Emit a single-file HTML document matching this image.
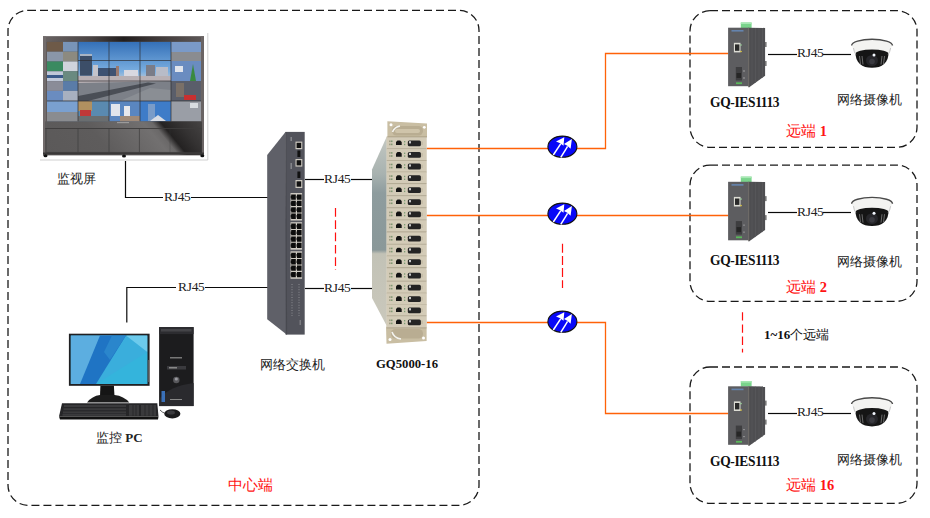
<!DOCTYPE html>
<html><head><meta charset="utf-8">
<style>
html,body{margin:0;padding:0;background:#fff;}
body{width:930px;height:518px;position:relative;overflow:hidden;font-family:"Liberation Serif",serif;color:#222;}
.t{position:absolute;white-space:nowrap;font-size:13px;line-height:1;}
.b{font-weight:bold;color:#111;}
.rj{font-size:13.5px;letter-spacing:-0.3px;}
.g{font-size:13.5px;letter-spacing:-0.35px;transform:scaleY(1.07);transform-origin:0 12px;}
.r{color:#ff1414;font-size:14.5px;}
svg{position:absolute;left:0;top:0;}
</style></head><body>
<svg width="930" height="518" viewBox="0 0 930 518">
<defs>
  <linearGradient id="sky" x1="0" y1="0" x2="0" y2="1">
    <stop offset="0" stop-color="#3470b8"/><stop offset="0.5" stop-color="#7aaee0"/><stop offset="0.6" stop-color="#a8c0d8"/><stop offset="1" stop-color="#8a9098"/>
  </linearGradient>
  <linearGradient id="cab" x1="0" y1="0" x2="1" y2="0">
    <stop offset="0" stop-color="#4a4a4a"/><stop offset="0.55" stop-color="#555"/><stop offset="0.75" stop-color="#1e1e1e"/><stop offset="1" stop-color="#3a3a3a"/>
  </linearGradient>
  <linearGradient id="sw" x1="0" y1="0" x2="1" y2="0">
    <stop offset="0" stop-color="#5a5b63"/><stop offset="1" stop-color="#4a4b52"/>
  </linearGradient>
  <linearGradient id="chs" gradientUnits="userSpaceOnUse" x1="0" y1="136" x2="0" y2="326">
    <stop offset="0" stop-color="#c4c8c2"/><stop offset="0.2" stop-color="#a8b2b0"/><stop offset="0.3" stop-color="#8e9c9e"/><stop offset="0.6" stop-color="#8a9899"/><stop offset="0.62" stop-color="#c2c2b6"/><stop offset="1" stop-color="#cac8bc"/>
  </linearGradient>
  <linearGradient id="pcs" x1="0" y1="0" x2="1" y2="1">
    <stop offset="0" stop-color="#1f8fd0"/><stop offset="0.5" stop-color="#38aee0"/><stop offset="1" stop-color="#1a70b8"/>
  </linearGradient>
  <linearGradient id="ftop" x1="0" y1="0" x2="1" y2="0">
    <stop offset="0" stop-color="#6a6464"/><stop offset="0.3" stop-color="#4a4444"/><stop offset="0.5" stop-color="#221e1e"/><stop offset="0.7" stop-color="#3e3838"/><stop offset="1" stop-color="#5e5858"/>
  </linearGradient>
  <linearGradient id="cabl" x1="0" y1="0" x2="1" y2="0">
    <stop offset="0" stop-color="#555252"/><stop offset="0.6" stop-color="#5e5b5b"/><stop offset="1" stop-color="#7a7878"/>
  </linearGradient>
  <linearGradient id="cabr" x1="0" y1="0" x2="1" y2="0">
    <stop offset="0" stop-color="#1a1818"/><stop offset="0.5" stop-color="#2e2c2c"/><stop offset="1" stop-color="#4a4848"/>
  </linearGradient>
  <linearGradient id="cabg" gradientUnits="userSpaceOnUse" x1="73.4" y1="214.3" x2="204.6" y2="106.2">
    <stop offset="0" stop-color="#5a5858"/><stop offset="0.4" stop-color="#5e5c5c"/><stop offset="0.66" stop-color="#727070"/><stop offset="0.70" stop-color="#6a6868"/><stop offset="0.74" stop-color="#242222"/><stop offset="0.82" stop-color="#343232"/><stop offset="1" stop-color="#504e4e"/>
  </linearGradient>
</defs>
<!-- dashed boxes -->
<g fill="none" stroke="#1a1a1a" stroke-width="1.3" stroke-dasharray="8 4">
  <rect x="8" y="10.3" width="471" height="495" rx="20" ry="20"/>
  <rect x="690" y="10.7" width="227" height="136.6" rx="20" ry="20"/>
  <rect x="690" y="165.1" width="227" height="136.2" rx="20" ry="20"/>
  <rect x="690" y="367" width="227" height="136.3" rx="20" ry="20"/>
</g>
<!-- black connection lines -->
<g fill="none" stroke="#0a0a0a" stroke-width="1.2">
  <polyline points="125.5,161 125.5,197.5 163,197.5"/>
  <line x1="191" y1="197.5" x2="268" y2="197.5"/>
  <polyline points="126.8,322.6 126.8,287.5 176,287.5"/>
  <line x1="205" y1="287.5" x2="268" y2="287.5"/>
  <line x1="305" y1="179.5" x2="324" y2="179.5"/>
  <line x1="351" y1="179.5" x2="372" y2="179.5"/>
  <line x1="305" y1="288.5" x2="324" y2="288.5"/>
  <line x1="351" y1="288.5" x2="372" y2="288.5"/>
  <line x1="768" y1="54.5" x2="797" y2="54.5"/>
  <line x1="823" y1="54.5" x2="851" y2="54.5"/>
  <line x1="768" y1="212.5" x2="797" y2="212.5"/>
  <line x1="823" y1="212.5" x2="851" y2="212.5"/>
  <line x1="768" y1="413.5" x2="797" y2="413.5"/>
  <line x1="823" y1="413.5" x2="851" y2="413.5"/>
</g>
<!-- red dashed -->
<g fill="none" stroke="#ff1010" stroke-width="1.2">
  <line x1="335.5" y1="208" x2="335.5" y2="270" stroke-dasharray="8.7 3.6"/>
  <line x1="562.5" y1="243.7" x2="562.5" y2="288" stroke-dasharray="9 3.2"/>
  <line x1="742.5" y1="312.2" x2="742.5" y2="352.5" stroke-dasharray="8.3 3.9"/>
</g>
<!-- orange lines -->
<g fill="none" stroke="#ff6208" stroke-width="1.3">
  <polyline points="426.6,148.5 605.5,148.5 605.5,53.5 728.4,53.5"/>
  <line x1="426.6" y1="215.5" x2="728.4" y2="215.5"/>
  <polyline points="426.6,322.5 605.5,322.5 605.5,413.5 728.4,413.5"/>
</g>
<!-- blue icons -->
<g id="ic">
  <ellipse cx="562.4" cy="146.7" rx="14.5" ry="10.6" fill="#0808f8" stroke="#111" stroke-width="1.1"/>
  <g stroke="#fff" stroke-width="1.5">
    <line x1="553.3" y1="155" x2="560.8" y2="143.6"/>
    <line x1="560.8" y1="157.3" x2="567.6" y2="146.4"/>
  </g>
  <polygon points="564.3,137.2 556,141.6 560.2,143.2 563.5,145.7" fill="#fff"/>
  <polygon points="571.9,139 564,144 567.3,145.8 570.6,148.8" fill="#fff"/>
</g>
<use href="#ic" transform="translate(0,67)"/>
<use href="#ic" transform="translate(0,175)"/>

<!-- ===== monitor wall ===== -->
<g id="wall">
  <polyline points="207.8,33 207.8,160 40,160" fill="none" stroke="#d0d0d0" stroke-width="1"/>
  <rect x="43" y="36.4" width="161" height="119" fill="#605a5a"/>
  <rect x="43" y="36.4" width="161" height="5.5" fill="url(#ftop)"/>
  <rect x="43" y="36.4" width="3" height="119" fill="#726c6c"/>
  <rect x="201" y="36.4" width="3" height="119" fill="#6a6464"/>
  <rect x="47" y="41.9" width="154" height="79.5" fill="#4f5660"/>
  <!-- center big image 3x3 -->
  <rect x="78" y="41.9" width="93" height="59" fill="url(#sky)"/>
  <rect x="79.9" y="54.7" width="12.1" height="21" fill="#3c4e68"/>
  <rect x="80" y="54" width="12" height="2" fill="#a8b4c4"/>
  <rect x="93" y="65" width="5" height="12" fill="#c4c4cc"/>
  <rect x="98" y="68" width="18" height="9" fill="#3e5272"/>
  <rect x="116" y="66" width="3" height="11" fill="#9a7a70"/>
  <rect x="124" y="70" width="14" height="8" fill="#d8d8e0"/>
  <rect x="146" y="65" width="9" height="12" fill="#7a7c88"/>
  <rect x="156" y="67" width="12" height="10" fill="#b8bcc8"/>
  <rect x="78" y="76" width="93" height="7" fill="#b8b0b4"/>
  <polygon points="78,83 171,81 171,101 78,101" fill="#7c8088"/>
  <polygon points="78,96 148,82.5 156,83.5 88,101 78,101" fill="#4a4e56"/>
  <polygon points="120,101 150,88 171,90 171,101" fill="#8a8e94"/>
  <!-- left col small tiles -->
  <rect x="47" y="41.9" width="16" height="9.8" fill="#6e5a48"/>
  <rect x="63" y="41.9" width="15" height="9.8" fill="#7894b8"/>
  <rect x="47" y="51.7" width="16" height="9.8" fill="#8a96a8"/>
  <rect x="63" y="51.7" width="15" height="9.8" fill="#8c8a80"/>
  <rect x="47" y="61.5" width="16" height="9.8" fill="#3a8a60"/>
  <rect x="63" y="61.5" width="15" height="9.8" fill="#d0d4dc"/>
  <rect x="47" y="71.3" width="16" height="9.8" fill="#c0c8d8"/>
  <rect x="47" y="75" width="16" height="3" fill="#3a5a8a"/>
  <rect x="63" y="71.3" width="15" height="9.8" fill="#6a8a80"/>
  <rect x="47" y="81.1" width="16" height="9.8" fill="#8a8c98"/>
  <rect x="63" y="81.1" width="15" height="9.8" fill="#5a7ca8"/>
  <rect x="47" y="90.9" width="16" height="10" fill="#6a8cc0"/>
  <rect x="63" y="90.9" width="15" height="10" fill="#a8b0c0"/>
  <!-- bottom row -->
  <rect x="47" y="101" width="31" height="20.4" fill="#7aa0d0"/>
  <rect x="47" y="112" width="31" height="9.4" fill="#8a8c90"/>
  <rect x="78" y="101" width="31" height="20.4" fill="#5a8ab0"/>
  <rect x="78" y="101" width="14" height="10" fill="#b09060"/>
  <rect x="80" y="110" width="11" height="6" fill="#c03838"/>
  <rect x="78" y="116" width="31" height="5.4" fill="#6a6e70"/>
  <rect x="109" y="101" width="31" height="20.4" fill="#5a86c0"/>
  <rect x="111" y="104" width="9" height="12" fill="#e0e4ec"/>
  <rect x="124" y="106" width="6" height="10" fill="#e8e8ec"/>
  <rect x="120" y="116" width="20" height="5.4" fill="#a08a78"/>
  <rect x="140" y="101" width="31" height="20.4" fill="#3e7cc8"/>
  <rect x="148" y="104" width="7" height="17" fill="#7a9cc8"/>
  <polygon points="150,121 158,115 166,121" fill="#d8dce4"/>
  <!-- right col -->
  <rect x="171" y="41.9" width="30" height="19" fill="#7a9ac8"/>
  <rect x="171" y="52" width="30" height="9" fill="#8a8c90"/>
  <rect x="171" y="61" width="30" height="20" fill="#6a8cc0"/>
  <rect x="175" y="66" width="8" height="6" fill="#e0e4ec"/>
  <polygon points="190,81 193,64 196,81" fill="#3a8a40"/>
  <rect x="171" y="81" width="30" height="20" fill="#5a5e6a"/>
  <rect x="176" y="83" width="8" height="14" fill="#7a7068"/>
  <rect x="184" y="95" width="12" height="5" fill="#c83030"/>
  <rect x="171" y="101" width="30" height="20.4" fill="#9a9ea6"/>
  <rect x="190" y="103" width="8" height="5" fill="#d8dce0"/>
  <!-- grid lines -->
  <g stroke="#2e2e32" stroke-width="0.7">
    <line x1="78" y1="41.9" x2="78" y2="121.4"/><line x1="109" y1="41.9" x2="109" y2="121.4"/>
    <line x1="140" y1="41.9" x2="140" y2="121.4"/><line x1="171" y1="41.9" x2="171" y2="121.4"/>
    <line x1="78" y1="60.5" x2="171" y2="60.5"/><line x1="78" y1="81" x2="171" y2="81"/>
    <line x1="47" y1="101" x2="201" y2="101"/>
  </g>
  <!-- cabinet -->
  <rect x="45" y="121.4" width="157" height="33.4" fill="url(#cabg)"/>
  <g stroke="#3e3c3c" stroke-width="0.7" fill="none">
    <line x1="45" y1="128.5" x2="202" y2="128.5"/>
    <rect x="46" y="128.6" width="155.3" height="23.7"/>
    <line x1="78" y1="128.6" x2="78" y2="152.3"/><line x1="109" y1="128.6" x2="109" y2="152.3"/>
    <line x1="139.4" y1="128.6" x2="139.4" y2="152.3"/><line x1="170" y1="128.6" x2="170" y2="152.3" stroke-opacity="0.4"/>
  </g>
  <rect x="43" y="152.5" width="161" height="2" fill="#3a3838"/>
  <rect x="117" y="122" width="12" height="1.2" fill="#bbb" opacity="0.6"/>
  <ellipse cx="45.5" cy="155.7" rx="2" ry="1.5" fill="#111"/>
  <ellipse cx="124" cy="155.9" rx="2" ry="1.5" fill="#111"/>
  <ellipse cx="202.3" cy="155.7" rx="2" ry="1.5" fill="#111"/>
</g>

<!-- ===== PC ===== -->
<g id="pc">
  <rect x="68.9" y="333.7" width="80.7" height="52.1" fill="#202022"/>
  <rect x="70.8" y="335.6" width="76.5" height="48.3" fill="#3aaedc"/>
  <polygon points="70.8,335.6 112,335.6 84,383.9 70.8,383.9" fill="#5caee0"/>
  <polygon points="100,335.6 126,335.6 96,383.9 80,383.9" fill="#1f74c4"/>
  <polygon points="112,335.6 126,335.6 110,360 104,352" fill="#2a86cc"/>
  <polygon points="126,335.6 147.3,335.6 147.3,352" fill="#6ccaec"/>
  <polygon points="96,383.9 147.3,352 147.3,383.9" fill="#34b4dc"/>
  <rect x="147.8" y="360" width="1.2" height="22" fill="#555"/>
  <polygon points="100.4,385.8 113.9,385.8 114.5,396 100,396" fill="#151515"/>
  <path d="M87,402.5 Q92,396 100,395 L114.5,395 Q124,396 129.3,402.5 Z" fill="#1c1c1c"/>
  <polygon points="62,403.2 157.3,403.2 158.5,416.5 59,416.5" fill="#262628"/>
  <polygon points="59,416.5 158.5,416.5 158,419.6 60,419.6" fill="#111"/>
  <g fill="#3a3a3c">
    <rect x="64" y="405" width="62" height="2"/><rect x="63.5" y="408.2" width="62.5" height="2"/><rect x="63" y="411.4" width="63" height="2"/><rect x="62.5" y="414" width="63.5" height="1.8"/>
    <rect x="129" y="405" width="10" height="10.8"/><rect x="141" y="405" width="15" height="10.8"/>
  </g>
  <g stroke="#1e1e20" stroke-width="0.6">
    <line x1="133" y1="405" x2="133" y2="416"/><line x1="136" y1="405" x2="136" y2="416"/><line x1="145" y1="405" x2="145" y2="416"/><line x1="149" y1="405" x2="149" y2="416"/><line x1="153" y1="405" x2="153" y2="416"/>
  </g>
  <rect x="159.1" y="327.1" width="34.5" height="79" fill="#1c1c1e"/>
  <rect x="159.1" y="327.1" width="34.5" height="7" fill="#2c2c30"/>
  <rect x="161" y="329" width="30.5" height="2.5" fill="#444448"/>
  <path d="M160,398 Q170,386 193.6,383 L193.6,406 L160,406 Z" fill="#2a2a2e"/>
  <rect x="170" y="357" width="12" height="1.5" fill="#777"/>
  <rect x="167" y="366" width="19" height="3.5" fill="#3a3a3e"/>
  <rect x="169" y="367" width="8" height="1.5" fill="#888"/>
  <circle cx="176.3" cy="380" r="3.2" fill="#58585c"/>
  <circle cx="176.3" cy="379" r="1.6" fill="#9a9aa0"/>
  <rect x="161.5" y="391" width="3.5" height="11" fill="#3a70b8"/>
  <rect x="170" y="399" width="12" height="1" fill="#888"/>
  <path d="M160,410 Q163,413 164.5,413" stroke="#333" stroke-width="0.8" fill="none"/>
  <ellipse cx="172.3" cy="413.8" rx="8.1" ry="4.6" fill="#1a1a1c"/>
  <ellipse cx="171" cy="412.5" rx="4" ry="2" fill="#3a3a3e"/>
</g>

<!-- ===== switch ===== -->
<g id="switch">
  <polygon points="267.2,155 285.5,131.9 286.6,334.6 267.2,319.3" fill="#5f6068"/>
  <rect x="285.5" y="131.9" width="19.2" height="202.7" fill="#52535b"/>
  <line x1="285.8" y1="132" x2="286.6" y2="334.6" stroke="#45464d" stroke-width="0.8"/>
  <g fill="#8a8b90"><rect x="290.5" y="137" width="1.4" height="4"/><rect x="290.5" y="163" width="1.4" height="6"/></g>
  <g fill="#cdc9c0">
    <rect x="295.5" y="141.6" width="6.8" height="7.6"/>
    <rect x="295.5" y="159" width="6.8" height="7.6"/>
    <rect x="295.5" y="180" width="6.8" height="8"/>
  </g>
  <g fill="#111">
    <rect x="296.6" y="142.8" width="4.6" height="5.2"/>
    <rect x="296.6" y="160.2" width="4.6" height="5.2"/>
    <rect x="296.6" y="181.3" width="4.6" height="5.4"/>
    <rect x="297.4" y="150.5" width="3" height="6.5"/>
    <rect x="297.4" y="171.5" width="3" height="6.5"/>
  </g>
  <g id="pgrp">
    <rect x="290.5" y="193" width="11.6" height="27.5" fill="#cdc9c1"/>
    <g fill="#0c0c0c">
      <path id="ph" d="M291.2,194.4 h4.6 v5.3 h-4.6 v-1.4 h-0.5 v-2.5 h0.5 Z"/>
      <use href="#ph" x="5.8"/>
      <use href="#ph" y="6.4"/><use href="#ph" x="5.8" y="6.4"/>
      <use href="#ph" y="12.8"/><use href="#ph" x="5.8" y="12.8"/>
      <use href="#ph" y="19.2"/><use href="#ph" x="5.8" y="19.2"/>
    </g>
  </g>
  <use href="#pgrp" transform="translate(0,29.2)"/>
  <use href="#pgrp" transform="translate(0,58.3)"/>
  <g stroke="#8c8d92" stroke-width="1" stroke-dasharray="1 1.6">
    <line x1="292" y1="284" x2="292" y2="316"/><line x1="299" y1="284" x2="299" y2="316"/>
  </g>
  <rect x="299.5" y="320" width="1.5" height="5" fill="#7a7b80"/>
</g>

<!-- ===== chassis ===== -->
<g id="chassis">
  <polygon points="372,169.4 386.8,136.5 386.8,326 372,298" fill="url(#chs)"/>
  <rect x="386.5" y="136.5" width="40" height="190" fill="#d2cab7"/>
  <polygon points="387.4,121.3 427,123.5 427,137 387.4,137" fill="#c9bea3"/>
  <rect x="392" y="126" width="31" height="9.5" rx="4.5" fill="#b9ad92"/>
  <rect x="395" y="129" width="25" height="4" rx="2" fill="#cfc4aa"/>
  <circle cx="391" cy="124.8" r="1.5" fill="#fff"/><circle cx="424.3" cy="127.3" r="1.4" fill="#fff"/>
  <path d="M392.5,132 Q394.5,127 400,126" stroke="#f4f4f0" stroke-width="1.6" fill="none"/>
  <line x1="387.4" y1="137" x2="427" y2="137" stroke="#9a8e74" stroke-width="0.8"/>
  <polygon points="386,326.5 426.6,326.5 426.6,341 386.5,343.8" fill="#c9bea3"/>
  <rect x="391" y="329" width="32" height="9.5" rx="4.5" fill="#b9ad92"/>
  <circle cx="390" cy="339.5" r="1.5" fill="#fff"/><circle cx="423.5" cy="338" r="1.5" fill="#fff"/>
  <path d="M392,332 Q394,338 401,339" stroke="#f4f4f0" stroke-width="1.6" fill="none"/>
  <g id="card">
    <rect x="386.8" y="137.5" width="39.7" height="11.2" fill="#d3cbb7"/>
    <line x1="386.8" y1="148.9" x2="426.5" y2="148.9" stroke="#a9a08a" stroke-width="0.9"/>
    <rect x="389.3" y="140.5" width="1.2" height="1.6" fill="#8a8a70"/><rect x="389.3" y="143.6" width="1.2" height="1.6" fill="#8a8a70"/>
    <rect x="391.2" y="140.5" width="1.2" height="1.6" fill="#6a8a60"/><rect x="391.2" y="143.6" width="1.2" height="1.6" fill="#6a8a60"/>
    <path d="M396,145.1 L396,142 L397.5,140.5 L400.2,140.5 L401.7,142 L401.7,145.1 Z" fill="#141414"/>
    <rect x="404.3" y="141" width="0.9" height="1.4" fill="#5a8a5a"/><rect x="404.3" y="143.8" width="0.9" height="1.4" fill="#5a8a5a"/>
    <rect x="407.8" y="140.4" width="13.1" height="5.8" rx="1.5" fill="#242424"/>
    <rect x="409" y="141.2" width="2" height="2.2" fill="#c8c8c8"/>
    <rect x="421.5" y="141.5" width="1" height="3.5" fill="#b8b09a"/>
  </g>
<use href="#card" transform="translate(0,11.60)"/><use href="#card" transform="translate(0,23.20)"/><use href="#card" transform="translate(0,34.80)"/><use href="#card" transform="translate(0,46.90)"/><use href="#card" transform="translate(0,58.90)"/><use href="#card" transform="translate(0,71.10)"/><use href="#card" transform="translate(0,83.00)"/><use href="#card" transform="translate(0,95.40)"/><use href="#card" transform="translate(0,107.20)"/><use href="#card" transform="translate(0,118.80)"/><use href="#card" transform="translate(0,132.30)"/><use href="#card" transform="translate(0,144.30)"/><use href="#card" transform="translate(0,155.80)"/><use href="#card" transform="translate(0,167.00)"/><use href="#card" transform="translate(0,179.00)"/>
</g>

<!-- ===== media converter ===== -->
<g id="mc">
  <rect x="740.8" y="22.5" width="10.8" height="5.5" fill="#7ad48c"/>
  <rect x="740.8" y="22.5" width="10.8" height="1.5" fill="#a8e8b4"/>
  <polygon points="748.9,27.7 765.1,27.9 765.1,75.8 748.9,87.4" fill="#4e4e51"/>
  <g stroke="#5c5c5f" stroke-width="0.6">
    <line x1="752" y1="28" x2="752" y2="85"/><line x1="755.5" y1="28" x2="755.5" y2="83"/><line x1="759" y1="28" x2="759" y2="80"/><line x1="762.5" y1="28" x2="762.5" y2="78"/>
  </g>
  <rect x="765" y="42" width="1.6" height="5" fill="#777"/><rect x="765" y="61" width="1.6" height="5" fill="#777"/>
  <rect x="728.1" y="27.7" width="20.8" height="58.5" fill="#5d5d60"/>
  <rect x="748.2" y="27.7" width="1" height="59.5" fill="#6e6a66"/>
  <rect x="731.5" y="30" width="12" height="1.6" fill="#6a9ad8" opacity="0.65"/>
  <rect x="733.9" y="42.8" width="6.6" height="9.6" fill="#dcdcd4"/>
  <rect x="735" y="44.4" width="4.4" height="6.4" fill="#2a2a2a"/>
  <circle cx="741" cy="45" r="0.8" fill="#9ad89a"/><circle cx="741" cy="51.5" r="0.8" fill="#e8d040"/>
  <rect x="735.8" y="67" width="6.2" height="13.5" fill="#3e3e40"/>
  <rect x="736.5" y="73" width="4.5" height="5" fill="#262626"/>
  <circle cx="744" cy="71" r="0.7" fill="#bbb"/><circle cx="744" cy="78" r="0.7" fill="#bbb"/>
  <rect x="736" y="82.3" width="6" height="1.8" fill="#5ab85a"/>
</g>
<use href="#mc" transform="translate(0,154.1)"/>
<use href="#mc" transform="translate(0,358.6)"/>

<!-- ===== camera ===== -->
<g id="cam">
  <path d="M855.3,51 A16.7,5 0 0 1 888.7,51 C888.7,63.5 882,67.8 872,67.8 C862,67.8 855.3,63.5 855.3,51 Z" fill="#151515"/>
  <g stroke="#6a6a6a" stroke-width="1">
    <path d="M859.5,56 L860.5,64" /><path d="M862,56 L863,64.5"/>
    <path d="M884.5,56 L883.5,64"/><path d="M882,56 L881,64.5"/>
  </g>
  <ellipse cx="872" cy="60.5" rx="6" ry="5.5" fill="#26262a"/>
  <circle cx="872" cy="61.5" r="2.8" fill="#3a3a40"/>
  <circle cx="874" cy="55" r="1.5" fill="#f4f8ff"/>
  <path d="M851.6,45 A20.45,6 0 0 1 892.5,45 L888.7,54 A16.7,4.5 0 0 0 855.3,54 Z" fill="#f3f3f1"/>
  <path d="M851.6,45.5 A20.45,6.3 0 0 1 892.5,45.5" fill="none" stroke="#4a4a4a" stroke-width="1.4"/>
  <path d="M853.5,48 Q854,52 855.8,54.5" stroke="#bdbdbd" stroke-width="0.8" fill="none"/>
  <path d="M890.6,48 Q890,52 888.2,54.5" stroke="#bdbdbd" stroke-width="0.8" fill="none"/>
</g>
<use href="#cam" transform="translate(0,158.2)"/>
<use href="#cam" transform="translate(0,358.6)"/>
</svg>

<div class="t" style="left:57px;top:172px;">监视屏</div>
<div class="t rj" style="left:164px;top:190px;">RJ45</div>
<div class="t rj" style="left:178px;top:280px;">RJ45</div>
<div class="t rj" style="left:324px;top:172px;">RJ45</div>
<div class="t rj" style="left:324px;top:281px;">RJ45</div>
<div class="t" style="left:96px;top:431px;">监控 <b>PC</b></div>
<div class="t" style="left:260px;top:359px;font-size:12.5px;">网络交换机</div>
<div class="t b" style="left:376px;top:358px;font-size:12.7px;">GQ5000-16</div>
<div class="t r" style="left:227.5px;top:478px;font-size:14.5px;">中心端</div>
<div class="t" style="left:764px;top:327.5px;color:#111;"><b>1~16</b>个远端</div>

<div class="t b g" style="left:710px;top:96px;">GQ-IES1113</div>
<div class="t rj" style="left:797px;top:46px;">RJ45</div>
<div class="t" style="left:837px;top:93.5px;font-size:12.6px;">网络摄像机</div>
<div class="t r" style="left:786px;top:124px;">远端 <b>1</b></div>

<div class="t b g" style="left:710px;top:253.5px;">GQ-IES1113</div>
<div class="t rj" style="left:797px;top:205px;">RJ45</div>
<div class="t" style="left:837px;top:255.5px;font-size:12.6px;">网络摄像机</div>
<div class="t r" style="left:786px;top:280px;">远端 <b>2</b></div>

<div class="t b g" style="left:710px;top:455px;">GQ-IES1113</div>
<div class="t rj" style="left:797px;top:405px;">RJ45</div>
<div class="t" style="left:837px;top:453.5px;font-size:12.6px;">网络摄像机</div>
<div class="t r" style="left:786px;top:478px;">远端 <b>16</b></div>
</body></html>
